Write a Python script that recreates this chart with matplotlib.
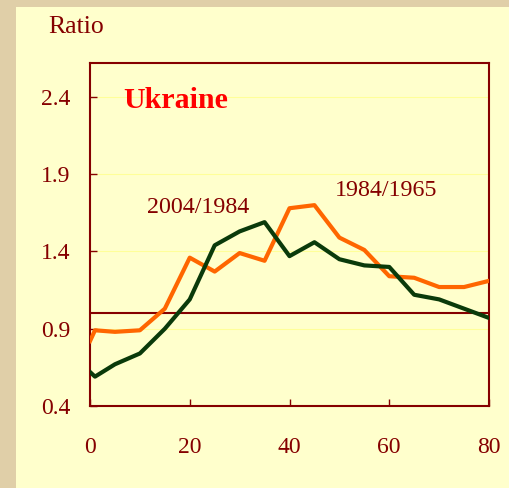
import matplotlib
matplotlib.use("Agg")
import matplotlib.pyplot as plt
from matplotlib.patches import Rectangle

ages = [0, 1, 5, 10, 15, 20, 25, 30, 35, 40, 45, 50, 55, 60, 65, 70, 75, 80]
ratio_1984_1965 = [0.82, 0.89, 0.88, 0.89, 1.03, 1.36, 1.27, 1.39, 1.34, 1.68, 1.70,
                   1.49, 1.41, 1.24, 1.23, 1.17, 1.17, 1.21]
ratio_2004_1984 = [0.62, 0.59, 0.67, 0.74, 0.90, 1.09, 1.44, 1.53, 1.59, 1.37, 1.46,
                   1.35, 1.31, 1.30, 1.12, 1.09, 1.03, 0.97]
yticks = [0.4, 0.9, 1.4, 1.9, 2.4]
xticks = [0, 20, 40, 60, 80]

dark_red = "#850000"
plt.rcParams['font.family'] = ['Liberation Serif', 'DejaVu Serif']

fig = plt.figure(figsize=(5.10, 4.88), dpi=100)
fig.patch.set_facecolor("#E0CFA8")
fig.patches.append(Rectangle((16/510, 0), 1 - 16/510, 1 - 7/488, transform=fig.transFigure,
                             facecolor="#FFFFCC", edgecolor="none", zorder=-10))

ax = fig.add_axes([90/510, 1 - 406/488, (489-90)/510, (406-63)/488])
ax.set_facecolor("#FFFFCC")
ax.set_xlim(0, 80)
ax.set_ylim(0.4, 2.62)

for y in yticks:
    ax.axhline(y, color="#FFFF99", lw=0.8, zorder=1)
ax.axhline(1.0, color=dark_red, lw=1.5, zorder=2)

ax.plot(ages, ratio_1984_1965, color="#FF6600", lw=3, zorder=3)
ax.plot(ages, ratio_2004_1984, color="#0A3A0A", lw=3, zorder=4)

for s in ax.spines.values():
    s.set_color(dark_red)
    s.set_linewidth(1.5)

ax.set_xticks(xticks)
ax.set_yticks(yticks)
ax.set_yticklabels([f"{v:.1f}" for v in yticks])
ax.tick_params(axis='both', direction='in', length=5, width=1, color=dark_red,
               labelcolor=dark_red, labelsize=17)
ax.tick_params(axis='x', pad=22)
ax.tick_params(axis='y', pad=14)

ax.text(6.6, 2.38, "Ukraine", color="#FF0000", fontsize=21.5, fontweight='bold',
        ha='left', va='center')
ax.text(21.6, 1.687, "2004/1984", color=dark_red, fontsize=17.3, ha='center', va='center')
ax.text(59.3, 1.797, "1984/1965", color=dark_red, fontsize=17.3, ha='center', va='center')

fig.text(48/510, 1 - 27/488, "Ratio", color=dark_red, fontsize=18.5, ha='left', va='center')

fig.savefig("out.png", dpi=100, facecolor=fig.get_facecolor())
